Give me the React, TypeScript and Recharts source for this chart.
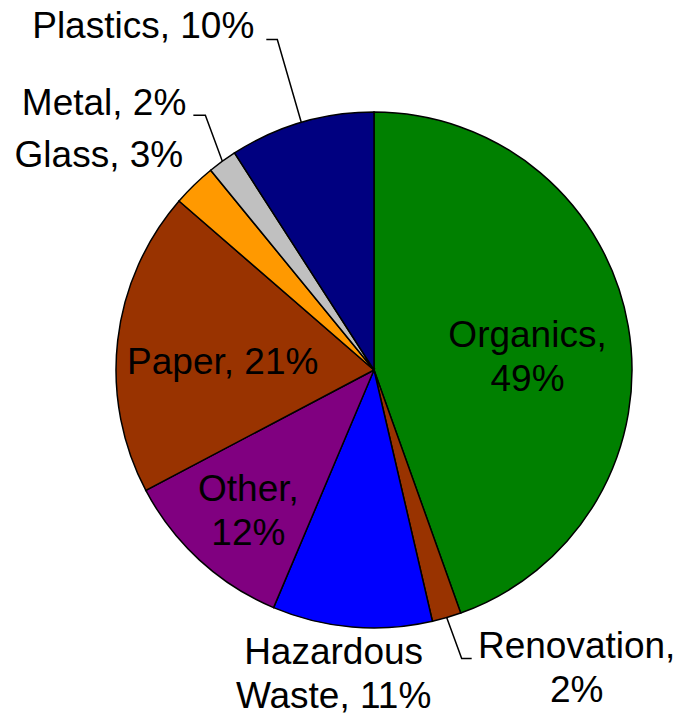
import { PieChart, Pie, Cell } from 'recharts';

const categories = ['Organics', 'Renovation', 'Hazardous Waste', 'Other', 'Paper', 'Glass', 'Metal', 'Plastics'];
const shares = [49, 2, 11, 12, 21, 3, 2, 10];
const sliceColors = ['#008000', '#993300', '#0000FF', '#800080', '#993300', '#FF9900', '#C0C0C0', '#000080'];

const chartData = categories.map((name, i) => ({ name, value: shares[i] }));

const RAD = Math.PI / 180;
const FONT = 37;
const LINE_GAP = 44.5;

// where each label sits: inside/outside at k * radius, or at the end of a leader line
type LabelLayout = {
    k?: number; dx?: number; dy?: number;
    leader?: { ex: number; ey: number; h: number; tx: number; ty: number };
    anchor: 'start' | 'middle' | 'end';
    breakAfter?: number;
};

const labelLayout: LabelLayout[] = [
    { k: 0.6, dx: 1, dy: 3, anchor: 'middle', breakAfter: 1 },
    { leader: { ex: 15, ey: 41, h: 10, tx: 105, ty: -1 }, anchor: 'middle', breakAfter: 1 },
    { k: 1.15, dx: -15, dy: -2, anchor: 'middle', breakAfter: 1 },
    { k: 0.72, dx: 0, dy: -6, anchor: 'middle', breakAfter: 1 },
    { k: 0.59, dx: 0, dy: 21, anchor: 'middle' },
    { k: 1.1, dx: 7, dy: 1, anchor: 'end' },
    { leader: { ex: -17, ey: -46, h: -12, tx: -7, ty: 0 }, anchor: 'end' },
    { leader: { ex: -24, ey: -83, h: -11, tx: -12, ty: -1 }, anchor: 'end' },
];

function polar(cx: number, cy: number, r: number, angle: number) {
    return { x: cx + r * Math.cos(-angle * RAD), y: cy + r * Math.sin(-angle * RAD) };
}

const renderLabel = (props: any) => {
    const { cx, cy, midAngle, outerRadius, index } = props;
    const layout = labelLayout[index];
    const text = `${categories[index]}, ${shares[index]}%`;
    const words = text.split(' ');
    const lines = layout.breakAfter
        ? [words.slice(0, layout.breakAfter).join(' '), words.slice(layout.breakAfter).join(' ')]
        : [text];

    let tx = 0;
    let ty = 0;
    let leader = null;
    if (layout.leader) {
        const edge = polar(cx, cy, outerRadius, midAngle);
        const elbow = { x: edge.x + layout.leader.ex, y: edge.y + layout.leader.ey };
        const endX = elbow.x + layout.leader.h;
        leader = (
            <polyline
                points={`${edge.x},${edge.y} ${elbow.x},${elbow.y} ${endX},${elbow.y}`}
                fill="none" stroke="#000" strokeWidth={1.5}
            />
        );
        tx = endX + layout.leader.tx;
        ty = elbow.y + layout.leader.ty;
    } else {
        const p = polar(cx, cy, outerRadius * (layout.k || 1), midAngle);
        tx = p.x + (layout.dx || 0);
        ty = p.y + (layout.dy || 0);
    }

    return (
        <g key={`lbl-${index}`}>
            {leader}
            <text x={tx} y={ty} textAnchor={layout.anchor} fill="#000"
                fontSize={FONT} fontFamily="'Liberation Sans', Arial, sans-serif">
                {lines.map((ln, i) => (
                    <tspan key={i} x={tx} dy={i === 0 ? 0 : LINE_GAP}>{ln}</tspan>
                ))}
            </text>
        </g>
    );
};

export default function App() {
    return (
        <div style={{ position: 'absolute', left: 0, top: 0, width: 681, height: 718, background: '#fff' }}>
            <PieChart width={681} height={718} margin={{ top: 0, right: 0, bottom: 0, left: 0 }}>
                <Pie
                    data={chartData}
                    dataKey="value"
                    nameKey="name"
                    cx={374}
                    cy={370}
                    outerRadius={258}
                    startAngle={90}
                    endAngle={-270}
                    stroke="#000"
                    strokeWidth={1.5}
                    label={renderLabel}
                    labelLine={false}
                    isAnimationActive={false}
                >
                    {chartData.map((d, i) => (
                        <Cell key={d.name} fill={sliceColors[i]} />
                    ))}
                </Pie>
            </PieChart>
        </div>
    );
}
